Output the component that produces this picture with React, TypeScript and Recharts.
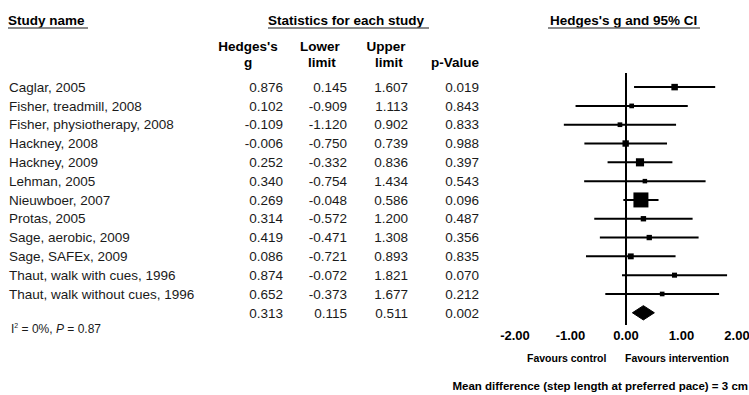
import { ComposedChart, Scatter, Area, XAxis, YAxis, ErrorBar, ReferenceLine } from "recharts";

const studies = [
  "Caglar, 2005",
  "Fisher, treadmill, 2008",
  "Fisher, physiotherapy, 2008",
  "Hackney, 2008",
  "Hackney, 2009",
  "Lehman, 2005",
  "Nieuwboer, 2007",
  "Protas, 2005",
  "Sage, aerobic, 2009",
  "Sage, SAFEx, 2009",
  "Thaut, walk with cues, 1996",
  "Thaut, walk without cues, 1996",
];
const hedgesG = [0.876, 0.102, -0.109, -0.006, 0.252, 0.34, 0.269, 0.314, 0.419, 0.086, 0.874, 0.652];
const lowerLimit = [0.145, -0.909, -1.12, -0.75, -0.332, -0.754, -0.048, -0.572, -0.471, -0.721, -0.072, -0.373];
const upperLimit = [1.607, 1.113, 0.902, 0.739, 0.836, 1.434, 0.586, 1.2, 1.308, 0.893, 1.821, 1.677];
const pValue = [0.019, 0.843, 0.833, 0.988, 0.397, 0.543, 0.096, 0.487, 0.356, 0.835, 0.07, 0.212];

// pooled estimate (last row)
const pooledG = 0.313;
const pooledLower = 0.115;
const pooledUpper = 0.511;
const pooledP = 0.002;

const xTicks = [-2, -1, 0, 1, 2];

const FONT = "'Liberation Sans', Arial, sans-serif";
const INK = "#1a1a1a";
const pooledRow = studies.length;

// square area follows inverse variance, so side ~ 1 / CI width
const studyRows = studies.map((name, i) => ({
  name,
  x: hedgesG[i],
  y: i,
  err: [hedgesG[i] - lowerLimit[i], upperLimit[i] - hedgesG[i]],
  side: Math.max(4.5, 9.5 / (upperLimit[i] - lowerLimit[i])),
}));

// diamond drawn as a ranged area: zero height at the limits, full height at the estimate
const diamond = [
  { x: pooledLower, band: [pooledRow, pooledRow] },
  { x: pooledG, band: [pooledRow - 0.38, pooledRow + 0.38] },
  { x: pooledUpper, band: [pooledRow, pooledRow] },
];

const fmt = (v: number) => v.toFixed(3);

function RowTick(props: any) {
  const { y, payload } = props;
  const i = payload.value as number;
  const isPooled = i === pooledRow;
  const vals = isPooled
    ? [pooledG, pooledLower, pooledUpper, pooledP]
    : [hedgesG[i], lowerLimit[i], upperLimit[i], pValue[i]];
  const cols = [283, 347, 408, 479];
  return (
    <g fontFamily={FONT} fontSize={13.5} fill={INK}>
      {!isPooled && (
        <text x={9} y={y} dy="0.35em" textAnchor="start">
          {studies[i]}
        </text>
      )}
      {vals.map((v, k) => (
        <text key={k} x={cols[k]} y={y} dy="0.35em" textAnchor="end">
          {fmt(v)}
        </text>
      ))}
    </g>
  );
}

function AxisTick(props: any) {
  const { x, y, payload } = props;
  return (
    <text x={x} y={y + 10} dy="0.35em" textAnchor="middle" fontFamily={FONT} fontSize={13} fontWeight="bold" fill="#000">
      {Number(payload.value).toFixed(2)}
    </text>
  );
}

function StudySquare(props: any) {
  const { cx, cy, payload } = props;
  const s = payload.side;
  return <rect x={cx - s / 2} y={cy - s / 2} width={s} height={s} fill="#000" />;
}

const boldText = { fontFamily: FONT, fontWeight: "bold" as const, fill: "#000" };

export default function App() {
  return (
    <div style={{ position: "absolute", left: 0, top: 0, width: 749, height: 395, background: "#fff" }}>
      <ComposedChart
        width={749}
        height={395}
        data={diamond}
        margin={{ top: 73, right: 12, bottom: 0, left: 0 }}
      >
        <XAxis
          type="number"
          dataKey="x"
          domain={[-2, 2]}
          ticks={xTicks}
          allowDataOverflow
          axisLine={false}
          tickLine={false}
          tickSize={0}
          tickMargin={0}
          height={70}
          tick={<AxisTick />}
        />
        <YAxis
          type="number"
          dataKey="y"
          domain={[-0.75, 12.65]}
          ticks={[...studies.map((_, i) => i), pooledRow]}
          interval={0}
          reversed
          allowDataOverflow
          axisLine={false}
          tickLine={false}
          width={515}
          tick={<RowTick />}
        />
        <ReferenceLine x={0} stroke="#000" strokeWidth={2} />
        <Area
          type="linear"
          dataKey="band"
          fill="#000"
          fillOpacity={1}
          stroke="#000"
          strokeWidth={1}
          dot={false}
          activeDot={false}
          isAnimationActive={false}
        />
        <Scatter data={studyRows} shape={<StudySquare />} isAnimationActive={false}>
          <ErrorBar dataKey="err" direction="x" width={0} stroke="#000" strokeWidth={2} />
        </Scatter>
      </ComposedChart>

      <svg
        width={749}
        height={395}
        style={{ position: "absolute", left: 0, top: 0, pointerEvents: "none" }}
      >
        {/* column headers */}
        <g fontSize={13.5} {...boldText}>
          <text x={8} y={25}>Study name</text>
          <text x={268} y={25}>Statistics for each study</text>
          <text x={550} y={25}>Hedges's g and 95% CI</text>
          <text x={248} y={51} textAnchor="middle">Hedges's</text>
          <text x={248} y={67} textAnchor="middle">g</text>
          <text x={320} y={51} textAnchor="middle">Lower</text>
          <text x={322} y={67} textAnchor="middle">limit</text>
          <text x={386} y={51} textAnchor="middle">Upper</text>
          <text x={389} y={67} textAnchor="middle">limit</text>
          <text x={479} y={67} textAnchor="end">p-Value</text>
        </g>
        <g stroke="#666" strokeWidth={1.5}>
          <line x1={8} x2={88} y1={28} y2={28} />
          <line x1={268} x2={429} y1={28} y2={28} />
          <line x1={548} x2={700} y1={28} y2={28} />
        </g>

        {/* heterogeneity */}
        <text x={11} y={333} fontFamily={FONT} fontSize={12} fill={INK}>
          I<tspan fontSize={7} dy={-5}>2</tspan>
          <tspan dy={5}> = 0%, </tspan>
          <tspan fontStyle="italic">P</tspan> = 0.87
        </text>

        {/* axis captions */}
        <g fontSize={10.5} {...boldText}>
          <text x={527} y={362}>Favours control</text>
          <text x={625} y={362}>Favours intervention</text>
        </g>
        <text x={748} y={390} textAnchor="end" fontSize={11.5} {...boldText}>
          Mean difference (step length at preferred pace) = 3 cm
        </text>
      </svg>
    </div>
  );
}
